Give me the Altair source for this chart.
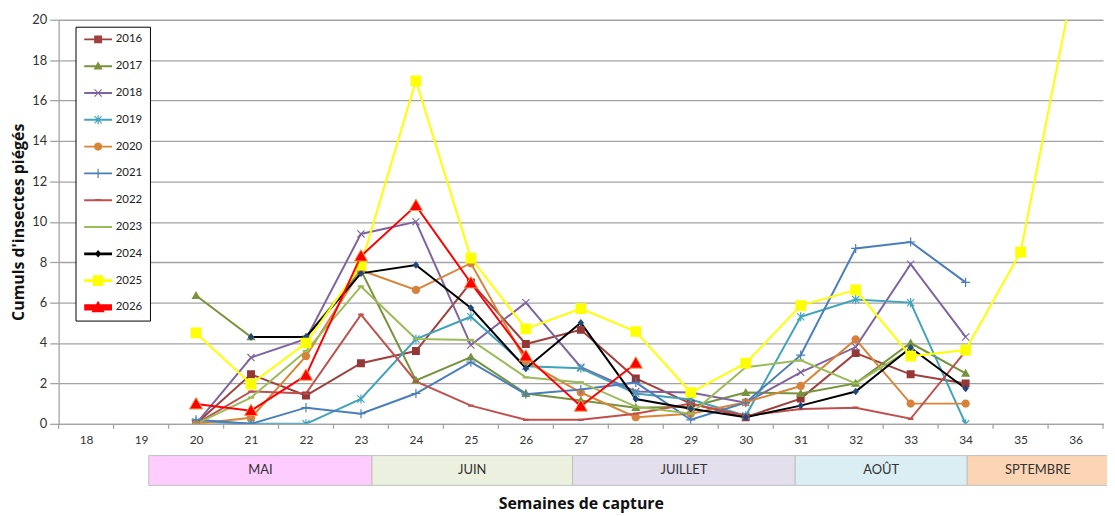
import altair as alt
import pandas as pd

FONT = "Lato"
TFONT = "Open Sans"

# ---------------- data ----------------
years = ["2016", "2017", "2018", "2019", "2020", "2021", "2022", "2023", "2024", "2025", "2026"]
start_weeks = [20, 20, 20, 20, 20, 20, 20, 20, 21, 20, 20]

v2016 = [0, 2.45, 1.4, 3.0, 3.6, 7.0, 3.95, 4.65, 2.25, 1.0, 0.33, 1.25, 3.5, 2.45, 2.0]
v2017 = [6.35, 4.3, 4.3, 7.6, 2.15, 3.3, 1.5, 1.15, 0.8, 0.85, 1.55, 1.5, 2.0, 4.0, 2.5]
v2018 = [0, 3.28, 4.2, 9.4, 10.0, 3.9, 6.0, 2.8, 1.6, 1.55, 1.05, 2.55, 3.8, 7.9, 4.3]
v2019 = [0.1, 0, 0, 1.23, 4.2, 5.3, 2.85, 2.75, 1.5, 1.2, 0.4, 5.3, 6.15, 6.0, 0]
v2020 = [0, 0.3, 3.35, 7.6, 6.63, 7.95, 3.1, 1.55, 0.33, 0.5, 1.07, 1.87, 4.18, 1.0, 1.0]
v2021 = [0.2, 0, 0.8, 0.5, 1.5, 3.05, 1.47, 1.7, 2.05, 0.2, 1.05, 3.4, 8.68, 9.0, 7.0]
v2022 = [0, 1.6, 1.5, 5.4, 2.1, 0.9, 0.2, 0.2, 0.5, 1.0, 0.4, 0.73, 0.8, 0.25, 3.6]
v2023 = [0, 1.3, 3.6, 6.8, 4.2, 4.15, 2.3, 2.05, 0.85, 0.5, 2.8, 3.14, 2.0, 3.7]
v2024 = [4.3, 4.3, 7.45, 7.86, 5.73, 2.74, 5.0, 1.23, 0.75, 0.33, 0.9, 1.6, 3.77, 1.75]
v2025 = [4.5, 1.97, 4.0, 7.86, 16.98, 8.2, 4.7, 5.7, 4.57, 1.55, 3.0, 5.85, 6.63, 3.35, 3.65, 8.5, 22.3]
v2026 = [0.98, 0.65, 2.4, 8.3, 10.8, 6.97, 3.35, 0.87, 3.0]
series = [v2016, v2017, v2018, v2019, v2020, v2021, v2022, v2023, v2024, v2025, v2026]

week_labels = list(range(18, 37))
tick_between = [w + 0.5 for w in range(17, 37)]

month_names = ["MAI", "JUIN", "JUILLET", "AOÛT", "SPTEMBRE"]
month_start = [19.14, 23.2, 26.85, 30.9, 34.03]
month_end = [23.2, 26.85, 30.9, 34.03, 36.6]

# ---------------- styles ----------------
line_colors = ["#A0413D", "#77933C", "#7F63A1", "#3FA3BC", "#D98537", "#4A7EBB",
               "#C0504D", "#9BBB59", "#000000", "#FFFF00", "#FF0000"]
marker_colors = ["#953735", "#77933C", "#7F63A1", "#3FA3BC", "#D7813A", "#4A7EBB",
                 "#C0504D", "#9BBB59", "#1F497D", "#FFFF00", "#FF0000"]
line_widths = [2.0, 2.0, 2.0, 2.0, 2.0, 2.0, 2.0, 2.0, 3.0, 2.5, 6.5]
month_colors = ["#FFCCFF", "#EBF1DE", "#E4DFEC", "#DAEEF3", "#FCD5B4"]


def sq(h, cx=0.0):
    return f"M{cx-h},{-h}H{cx+h}V{h}H{cx-h}Z"


def tri(h, cx=0.0):
    return f"M{cx},{-h}L{cx+h},{h*0.75}H{cx-h}Z"


def xmark(h, cx=0.0):
    d = 0.2
    return (f"M{cx-h},{-h+d}L{cx-h+d},{-h}L{cx+h},{h-d}L{cx+h-d},{h}Z"
            f"M{cx+h-d},{-h}L{cx+h},{-h+d}L{cx-h+d},{h}L{cx-h},{h-d}Z")


def vbar(h, cx=0.0, t=0.15):
    return f"M{cx-t},{-h}H{cx+t}V{h}H{cx-t}Z"


def hbar(w, t, cx=0.0):
    return f"M{cx-w},{-t}H{cx+w}V{t}H{cx-w}Z"


def circ(r, cx=0.0):
    return f"M{cx+r},0A{r},{r},0,1,1,{cx-r},0A{r},{r},0,1,1,{cx+r},0Z"


def diam(h, cx=0.0):
    return f"M{cx},{-h}L{cx+h*0.85},0L{cx},{h}L{cx-h*0.85},0Z"


def markers(cx=0.0):
    return [
        sq(1.0, cx),
        tri(1.15, cx),
        xmark(1.0, cx),
        xmark(1.0, cx) + vbar(1.15, cx),
        circ(1.05, cx),
        vbar(1.15, cx) + hbar(1.15, 0.15, cx),
        hbar(0.7, 0.28, cx),
        hbar(0.8, 0.28, cx),
        diam(0.95, cx),
        sq(1.35, cx),
        tri(1.65, cx),
    ]


marker_paths = markers(0.0)
legend_line_t = [0.24, 0.24, 0.24, 0.24, 0.24, 0.24, 0.24, 0.24, 0.34, 0.32, 0.8]
legend_paths = [f"M-1,{-t}H6V{t}H-1Z" + m for t, m in zip(legend_line_t, markers(2.5))]

# ---------------- tables ----------------
rows = []
for yr, s, vals in zip(years, start_weeks, series):
    for i, v in enumerate(vals):
        rows.append({"year": yr, "week": s + i, "value": v})
df = pd.DataFrame(rows)

months = pd.DataFrame({"month": month_names, "start": month_start, "end": month_end})
months["mid"] = (months["start"] + months["end"]) / 2
ticks_df = pd.DataFrame({"pos": tick_between})

W, H = 1052, 407
GRID = "#A3A3A3"

x_scale = alt.Scale(domain=[17.5, 36.5], nice=False, zero=False)
x_axis = alt.Axis(values=week_labels, ticks=False, grid=False, format="d",
                  title="Semaines de capture", labelFont=FONT, labelFontSize=12,
                  labelColor="#333333", labelPadding=11, domainColor=GRID, domainWidth=1.3,
                  titleFont=TFONT, titleFontSize=16, titleFontWeight="bold",
                  titleColor="#111111", titlePadding=50)
y_scale = alt.Scale(domain=[0, 20], nice=False, zero=True)
y_axis = alt.Axis(values=list(range(0, 21, 2)), grid=True, gridColor=GRID, gridWidth=1.3,
                  tickColor=GRID, tickSize=9, tickWidth=1.3, domainColor=GRID, domainWidth=1.3,
                  labelFont=FONT, labelFontSize=13, labelColor="#333333", labelPadding=3,
                  title="Cumuls d'insectes piégés", titleFont=TFONT, titleFontSize=16,
                  titleFontWeight="bold", titleColor="#111111", titlePadding=5)

X = alt.X("week:Q", scale=x_scale, axis=x_axis)
Y = alt.Y("value:Q", scale=y_scale, axis=y_axis)

color_lines = alt.Color("year:N", scale=alt.Scale(domain=years, range=line_colors), legend=None)
width_lines = alt.StrokeWidth("year:N", scale=alt.Scale(domain=years, range=line_widths), legend=None)
fill_pts = alt.Fill("year:N", scale=alt.Scale(domain=years, range=marker_colors), legend=None)
shape_pts = alt.Shape("year:N", scale=alt.Scale(domain=years, range=marker_paths), legend=None)

others = alt.Chart(df).transform_filter(alt.datum.year != "2026")
last = alt.Chart(df).transform_filter(alt.datum.year == "2026")

bands = alt.Chart(months).mark_rect(stroke="#BFBFBF", strokeWidth=1).encode(
    x=alt.X("start:Q", scale=x_scale, axis=x_axis),
    x2="end:Q",
    y=alt.value(H + 32),
    y2=alt.value(H + 62),
    fill=alt.Fill("month:N", scale=alt.Scale(domain=month_names, range=month_colors), legend=None),
)
band_text = alt.Chart(months).mark_text(font=FONT, fontSize=13, color="#333333", baseline="middle").encode(
    x=alt.X("mid:Q", scale=x_scale, axis=x_axis),
    y=alt.value(H + 47),
    text="month:N",
)
tick_marks = alt.Chart(ticks_df).mark_rule(color=GRID, strokeWidth=1.3).encode(
    x=alt.X("pos:Q", scale=x_scale, axis=x_axis),
    y=alt.value(H),
    y2=alt.value(H + 5),
)

lines_o = others.mark_line(clip=True).encode(x=X, y=Y, color=color_lines, strokeWidth=width_lines)
pts_o = others.mark_point(filled=True, size=64, opacity=1, clip=True, strokeWidth=0).encode(
    x=X, y=Y, fill=fill_pts, shape=shape_pts)
lines_l = last.mark_line(clip=True).encode(x=X, y=Y, color=color_lines, strokeWidth=width_lines)
pts_l = last.mark_point(filled=True, size=64, opacity=1, clip=True, stroke="#F79646", strokeWidth=1).encode(
    x=X, y=Y, fill=fill_pts, shape=shape_pts)

leg = alt.Legend(orient="none", legendX=17, legendY=7, direction="vertical", title=None,
                 strokeColor="#000000", fillColor="#FFFFFF", padding=7, rowPadding=14,
                 labelFont=FONT, labelFontSize=11.5, labelColor="#222222", labelOffset=22,
                 symbolSize=64, symbolOpacity=1, symbolStrokeWidth=0, cornerRadius=0)
legend_layer = alt.Chart(df).mark_point(filled=True, size=64, opacity=0).encode(
    x=X, y=Y,
    color=alt.Color("year:N", scale=alt.Scale(domain=years, range=line_colors), legend=leg),
    shape=alt.Shape("year:N", scale=alt.Scale(domain=years, range=legend_paths), legend=leg),
)

chart = alt.layer(
    bands, band_text, tick_marks, lines_o, pts_o, lines_l, pts_l, legend_layer
).resolve_scale(
    color="independent", shape="independent", fill="independent", strokeWidth="independent"
).properties(
    width=W, height=H,
    autosize=alt.AutoSizeParams(type="none"),
    padding={"left": 51, "top": 10, "right": 4, "bottom": 91},
).configure_view(stroke=None)

chart.save("out.html", embed_options={"renderer": "svg", "actions": False})
